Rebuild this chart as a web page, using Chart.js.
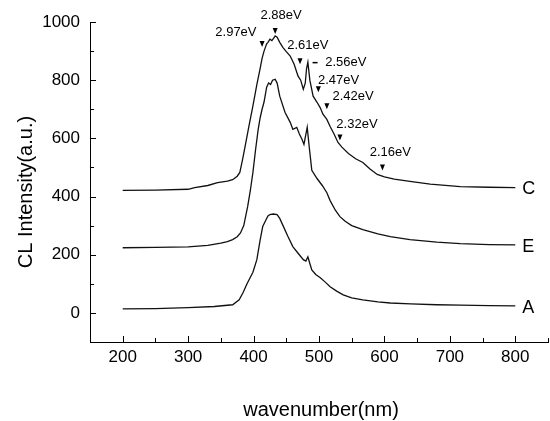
<!DOCTYPE html>
<html>
<head>
<meta charset="utf-8">
<script src="https://cdn.jsdelivr.net/npm/chart.js@4.4.0/dist/chart.umd.min.js"></script>
<style>
  html, body { margin: 0; padding: 0; background: #fff; }
  #wrap { width: 550px; height: 421px; }
</style>
</head>
<body>
<div id="wrap"><canvas id="cl"></canvas></div>
<script>
// --- data ---
const cX = [200, 250, 300, 310, 330, 345, 360, 368, 375, 379, 383, 387, 393, 399, 405, 410, 413, 416, 420, 422, 425, 428, 431, 433, 436, 440, 445, 450, 456, 462, 468, 472, 476, 479, 481, 483, 486, 491, 497, 502, 506, 512, 517, 523, 529, 535, 545, 556, 567, 578, 589, 600, 615, 639, 670, 716, 760, 800];
const cY = [421, 422, 425, 431, 438, 448, 453, 458, 470, 483, 525, 572, 643, 712, 785, 840, 875, 900, 925, 930, 941, 936, 945, 952, 948, 930, 912, 898, 883, 855, 814, 800, 769, 790, 840, 862, 800, 745, 724, 705, 683, 665, 641, 615, 586, 570, 548, 530, 517, 495, 476, 468, 460, 452, 443, 434, 432, 431];

const eX = [200, 250, 300, 330, 350, 360, 368, 375, 380, 385, 391, 395, 399, 403, 407, 410, 413, 416, 420, 423, 426, 429, 433, 436, 440, 448, 456, 460, 466, 470, 474, 477, 482, 485, 489, 497, 505, 512, 517, 525, 532, 540, 550, 567, 590, 609, 639, 680, 716, 760, 800];
const eY = [224, 225, 227, 232, 240, 245, 252, 262, 275, 300, 366, 420, 483, 560, 630, 670, 700, 725, 776, 790, 785, 800, 803, 790, 745, 690, 655, 631, 638, 615, 597, 579, 638, 572, 490, 462, 438, 413, 386, 353, 331, 315, 300, 286, 272, 262, 252, 243, 238, 235, 234];

const aX = [200, 250, 300, 340, 368, 378, 384, 390, 399, 405, 410, 414, 419, 422, 425, 430, 436, 440, 445, 452, 460, 468, 476, 480, 483, 486, 489, 495, 502, 510, 517, 527, 537, 550, 567, 590, 609, 640, 680, 716, 760, 800];
const aY = [14, 15, 18, 22, 28, 45, 70, 100, 140, 183, 250, 297, 320, 333, 338, 340, 338, 325, 300, 265, 228, 205, 183, 178, 193, 170, 148, 132, 121, 105, 90, 75, 62, 52, 45, 38, 34, 31, 28, 27, 25, 24];

const seriesNames = ["C", "E", "A"];

const xTicks = [200, 300, 400, 500, 600, 700, 800];
const yTicks = [0, 200, 400, 600, 800, 1000];

// peak annotations on curve C: marker (nm, value) and text anchor (nm, value)
const peakLabels = ["2.97eV", "2.88eV", "2.61eV", "2.56eV", "2.47eV", "2.42eV", "2.32eV", "2.16eV"];
const peakMarkX = [413, 433, 471, 494, 499, 512, 532, 597];
const peakMarkY = [924, 969, 865, 862, 769, 710, 603, 500];
const peakMarkKind = ["tri", "tri", "tri", "dash", "tri", "tri", "tri", "tri"];
const peakTextX = [373, 442, 483, 541, 530, 552, 558, 609];
const peakTextY = [965, 1024, 920, 862, 800, 745, 648, 552];

const FONT = "'Liberation Sans', Arial, Helvetica, sans-serif";

function pts(xs, ys) {
  return xs.map((x, i) => ({ x: x, y: ys[i] }));
}

const lineStyle = {
  borderColor: "#111",
  borderWidth: 1.3,
  pointRadius: 0,
  tension: 0,
  fill: false
};

// --- overlay: inward ticks, titles, curve names, peak marks ---
const overlay = {
  id: "overlay",
  afterDraw(chart) {
    const ctx = chart.ctx;
    const xs = chart.scales.x;
    const ys = chart.scales.y;
    const area = chart.chartArea;
    ctx.save();
    ctx.strokeStyle = "#000";
    ctx.lineWidth = 1;

    // x ticks pointing inward
    for (let v = 200; v <= 850; v += 50) {
      const px = Math.round(xs.getPixelForValue(v)) + 0.5;
      const len = v % 100 === 0 ? 6 : 4;
      ctx.beginPath();
      ctx.moveTo(px, area.bottom);
      ctx.lineTo(px, area.bottom - len);
      ctx.stroke();
    }
    // y ticks pointing inward
    for (let v = 0; v <= 1000; v += 100) {
      const py = Math.round(ys.getPixelForValue(v)) + 0.5;
      const len = v % 200 === 0 ? 6 : 4;
      ctx.beginPath();
      ctx.moveTo(area.left, py);
      ctx.lineTo(area.left + len, py);
      ctx.stroke();
    }

    // axis titles
    ctx.fillStyle = "#000";
    ctx.font = "20px " + FONT;
    ctx.textAlign = "center";
    ctx.textBaseline = "middle";
    ctx.fillText("wavenumber(nm)", 321, 410);
    ctx.save();
    ctx.translate(26, 192);
    ctx.rotate(-Math.PI / 2);
    ctx.fillText("CL Intensity(a.u.)", 0, 0);
    ctx.restore();

    // curve names at the right end
    ctx.font = "18px " + FONT;
    ctx.textAlign = "left";
    chart.data.datasets.forEach((ds) => {
      const last = ds.data[ds.data.length - 1];
      ctx.fillText(ds.label, xs.getPixelForValue(last.x) + 7, ys.getPixelForValue(last.y) + 2);
    });

    // peak markers and energy labels
    ctx.font = "13px " + FONT;
    ctx.textAlign = "center";
    peakLabels.forEach((txt, i) => {
      const mx = xs.getPixelForValue(peakMarkX[i]);
      const my = ys.getPixelForValue(peakMarkY[i]);
      if (peakMarkKind[i] === "tri") {
        ctx.beginPath();
        ctx.moveTo(mx - 2.5, my - 3);
        ctx.lineTo(mx + 2.5, my - 3);
        ctx.lineTo(mx, my + 3);
        ctx.closePath();
        ctx.fill();
      } else {
        ctx.beginPath();
        ctx.moveTo(mx - 2.5, my + 0.5);
        ctx.lineTo(mx + 2.5, my + 0.5);
        ctx.lineWidth = 1.5;
        ctx.stroke();
        ctx.lineWidth = 1;
      }
      ctx.fillText(txt, xs.getPixelForValue(peakTextX[i]), ys.getPixelForValue(peakTextY[i]));
    });

    ctx.restore();
  }
};

new Chart(document.getElementById("cl"), {
  type: "line",
  data: {
    datasets: [
      { label: seriesNames[0], data: pts(cX, cY), ...lineStyle },
      { label: seriesNames[1], data: pts(eX, eY), ...lineStyle },
      { label: seriesNames[2], data: pts(aX, aY), ...lineStyle }
    ]
  },
  options: {
    responsive: true,
    maintainAspectRatio: false,
    animation: false,
    layout: { padding: { top: 22, right: 2, left: 0, bottom: 0 } },
    plugins: {
      legend: { display: false },
      tooltip: { enabled: false }
    },
    scales: {
      x: {
        type: "linear",
        min: 150,
        max: 850,
        grid: { display: false, drawTicks: false },
        border: { display: true, color: "#000", width: 1 },
        afterBuildTicks: (s) => { s.ticks = xTicks.map(v => ({ value: v })); },
        afterFit: (s) => { s.height = 79; },
        ticks: {
          padding: 5,
          color: "#000",
          font: { family: FONT, size: 17 },
          maxRotation: 0,
          callback: (v) => String(v)
        }
      },
      y: {
        type: "linear",
        min: -100,
        max: 1000,
        grid: { display: false, drawTicks: false },
        border: { display: true, color: "#000", width: 1 },
        afterBuildTicks: (s) => { s.ticks = yTicks.map(v => ({ value: v })); },
        afterFit: (s) => { s.width = 90; },
        ticks: {
          padding: 10,
          color: "#000",
          font: { family: FONT, size: 17 },
          callback: (v) => String(v)
        }
      }
    }
  },
  plugins: [overlay]
});
</script>
</body>
</html>
